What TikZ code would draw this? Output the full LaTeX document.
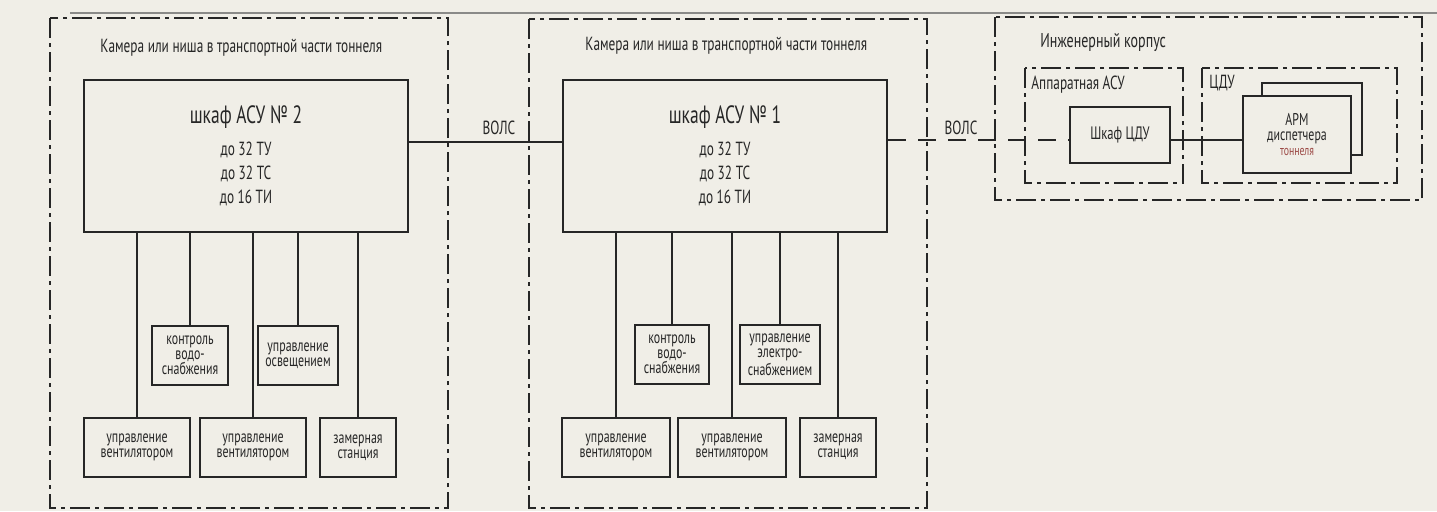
\documentclass[tikz,border=0pt]{standalone}
\usepackage{fontspec}
\setmainfont{PT Sans}[FakeStretch=0.7]
\usepackage{tikz}
\usetikzlibrary{positioning,calc}
\definecolor{ink}   {HTML}{262626}
\definecolor{paper} {HTML}{F0EEE7}
\definecolor{rust}  {HTML}{9C4A46}
\definecolor{edge}  {HTML}{8A8A88}
\tikzset{
  % --- nodes
  box/.style   = {draw=ink, line width=1pt, fill=paper, align=center, inner sep=1pt,
                  text=ink, font=\fontsize{8.5}{7.4}\selectfont},
  cab/.style   = {box, minimum width=162pt, minimum height=76pt,
                  font=\fontsize{9.5}{12}\selectfont},
  lbl/.style   = {font=\fontsize{9.5}{10}\selectfont, text=ink, inner sep=0pt},
  % --- edges
  e/.style     = {draw=ink, line width=1pt},
  fiber/.style = {e, dash pattern=on 9pt off 6pt},
  zone/.style  = {draw=ink, line width=1pt, dash pattern=on 10pt off 2.5pt on 2pt off 2.5pt},
}
\newcommand{\cabhead}[1]{{\fontsize{12.5}{13}\selectfont #1}\\[4pt]}

\begin{document}
\begin{tikzpicture}[x=0.5pt,y=-0.5pt]
  \useasboundingbox[fill=paper] (0,0) rectangle (1437,511);
  \draw[edge, line width=0.6pt] (70,13) -- (1437,13);

  % chamber 2
  \draw[zone] (50,18) rectangle (448,508);
  \node[lbl, anchor=west] (cam2) at (100,48) {Камера или ниша в транспортной части тоннеля};
  \node[cab] (asu2) at (246,156) {\cabhead{шкаф АСУ №~2}до 32 ТУ\\до 32 ТС\\до 16 ТИ};
  \node[box, minimum width=38pt, minimum height=29.5pt] (water2) at (190,355.5) {контроль\\водо-\\снабжения};
  \node[box, minimum width=40pt, minimum height=29.5pt] (light2) at (298,355.5) {управление\\освещением};
  \node[box, minimum width=53pt, minimum height=29.5pt] (fan2a) at (137,447.5) {управление\\вентилятором};
  \node[box, minimum width=53pt, minimum height=29.5pt] (fan2b) at (253,447.5) {управление\\вентилятором};
  \node[box, minimum width=38pt, minimum height=29.5pt] (meter2) at (358,447.5) {замерная\\станция};
  \foreach \n in {water2,light2,fan2a,fan2b,meter2}
    \draw[e] (\n.north) -- (\n.north |- asu2.south);

  % chamber 1
  \draw[zone] (529,19) rectangle (927,508);
  \node[lbl, anchor=west] (cam1) at (585,46) {Камера или ниша в транспортной части тоннеля};
  \node[cab] (asu1) at (725,156) {\cabhead{шкаф АСУ №~1}до 32 ТУ\\до 32 ТС\\до 16 ТИ};
  \node[box, minimum width=37pt, minimum height=29.5pt] (water1) at (672,354.5) {контроль\\водо-\\снабжения};
  \node[box, minimum width=40pt, minimum height=29.5pt] (power1) at (780,354.5) {управление\\электро-\\снабжением};
  \node[box, minimum width=54pt, minimum height=29.5pt] (fan1a) at (616,447) {управление\\вентилятором};
  \node[box, minimum width=54pt, minimum height=29.5pt] (fan1b) at (732,447) {управление\\вентилятором};
  \node[box, minimum width=38pt, minimum height=29.5pt] (meter1) at (838,447) {замерная\\станция};
  \foreach \n in {water1,power1,fan1a,fan1b,meter1}
    \draw[e] (\n.north) -- (\n.north |- asu1.south);

  % engineering building
  \draw[zone] (995,17) rectangle (1422,200);
  \node[lbl, anchor=west, font=\fontsize{10}{10}\selectfont] (eng) at (1040,43) {Инженерный корпус};
  \draw[zone] (1025,68) rectangle (1183,183);
  \node[lbl, anchor=west] (hw) at (1031,85) {Аппаратная АСУ};
  \draw[zone] (1202,68) rectangle (1397,183);
  \node[lbl, anchor=west] (cdu) at (1209,83) {ЦДУ};
  \node[box, minimum width=50pt, minimum height=28pt, font=\fontsize{9}{9}\selectfont] (cab) at (1120,135) {Шкаф ЦДУ};
  \node[box, minimum width=50pt, minimum height=36pt] (armb) at (1312,119) {};
  \node[box, minimum width=54pt, minimum height=38.5pt, font=\fontsize{8.5}{7.6}\selectfont] (arm) at (1297,134.5)
    {АРМ\\диспетчера\\{\fontsize{7}{7}\selectfont\color{rust}тоннеля}};

  % links
  \draw[e] ([yshift=7pt]asu2.east) coordinate (g) -- (g -| asu1.west);
  \node[lbl] (volc1) at (499,128) {ВОЛС};
  \draw[fiber] ([yshift=8pt]asu1.east) coordinate (f) -- (f -| cab.west);
  \node[lbl] (volc2) at (961,128) {ВОЛС};
  \draw[e] (f -| cab.east) -- (f -| arm.west);
\end{tikzpicture}
\end{document}
